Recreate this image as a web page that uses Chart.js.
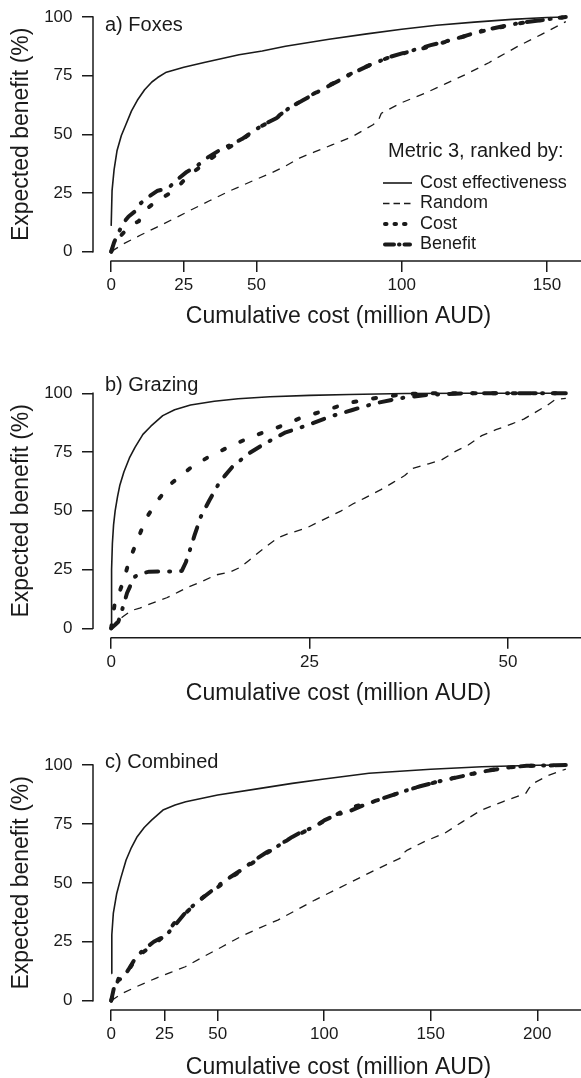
<!DOCTYPE html>
<html><head><meta charset="utf-8">
<script src="https://cdn.jsdelivr.net/npm/chart.js@4.4.1/dist/chart.umd.min.js"></script>
<style>
html,body{margin:0;padding:0;background:#fff;overflow:hidden;width:581px;height:1078px;position:relative;}
canvas{position:absolute;left:0;}
</style></head><body>
<canvas id="pa" width="600" height="330" style="top:0px"></canvas>
<canvas id="pb" width="600" height="362" style="top:345px"></canvas>
<canvas id="pc" width="600" height="361" style="top:720px"></canvas>
<script>
// ---------- DATA (cumulative cost [million AUD], expected benefit [%]) ----------
const seriesNames = ["Cost effectiveness", "Random", "Cost", "Benefit"];
const legendTitle = "Metric 3, ranked by:";
const xTitle = "Cumulative cost (million AUD)";
const yTitle = "Expected benefit (%)";
const yTicks = [0, 25, 50, 75, 100];

// Panel a) Foxes
const foxesXTicks = [0, 25, 50, 100, 150];
const foxesCostEff = [[0,11],[0.3,26],[1,35],[2,43],[3.5,49.5],[5,54],[7,60],[9,64.5],[11.5,69],[14,72.3],[16,74.2],[19,76.5],[25,78.6],[32,80.6],[44,83.9],[52,85.5],[60,87.5],[75,90.5],[88,92.8],[100,94.8],[112,96.5],[125,97.8],[138,99],[150,99.8],[156.5,100]];
const foxesRandom = [[0,0],[4,3.2],[10,7],[15.6,10.4],[22,14.3],[27,17.5],[34,21.8],[41,26],[48,29.8],[55,33.5],[60,36.5],[65,40],[70,42.5],[76,45.5],[83,49],[90,54],[92,56],[93,59],[100,63.5],[108,67.5],[115,71.5],[122,75.5],[130,80.5],[132,82],[140,87.5],[148,92.5],[156.5,98]];
const foxesCost = [[0,0],[1,3],[3,6.5],[5,9],[7,11.5],[9.5,13],[11,16.5],[13,19],[16,22],[19,24],[21,25.5],[24,29],[27,33],[30,35.5],[34,39.5],[38,42.5],[42,45.5],[46,48.5],[50,52.5],[55,55.5],[60,60],[65,64],[70,67.5],[76,71.5],[82,75.5],[88,79],[95,82.5],[102,85],[110,87.5],[118,90.5],[128,94],[140,97.2],[150,98.9],[156.5,100]];
const foxesBenefit = [[0,0],[1,4],[2.5,8],[4,12],[6,15],[8,17],[10,20.5],[13,23.5],[16,26],[18,26.5],[20,27.5],[23,31],[26,34],[29,36],[33,40],[37,43],[41,45.5],[45,48],[49,51.5],[53,54.5],[57,57],[61,61],[66,64.5],[71,68],[77,72],[83,76],[89,79.5],[96,83],[103,85.5],[110,88],[118,90.5],[128,94.3],[140,97.3],[150,99],[156.5,100]];

// Panel b) Grazing
const grazingXTicks = [0, 25, 50];
const grazingCostEff = [[0,0],[0.05,25],[0.15,36],[0.3,44],[0.5,50],[0.8,56],[1.1,61],[1.6,66.5],[2.3,72.5],[3,77],[4,82.5],[5,86],[6.5,90.5],[8,93],[10,95],[13,96.6],[16,97.7],[20,98.5],[25,99.1],[30,99.5],[37,99.9],[45,100],[57.3,100]];
const grazingRandom = [[0,0],[0.7,3],[1.5,5],[2.5,7.5],[3.6,8.6],[5,10.5],[7,13],[8.5,15.5],[9.8,17.7],[11.5,20],[13.2,22.7],[15,24],[16.3,26],[17.4,29],[18.5,32],[20,36],[21,38.5],[22.5,40.5],[24.5,42.5],[26,45],[27.5,47.5],[29,50],[30.5,53],[32,55.5],[34,59],[35.5,62],[37,65],[38,68],[40,70],[41.6,71.6],[43.5,75.5],[45,78],[46.7,82],[48.5,84.5],[50.5,87],[52,89],[53.5,92],[55,95],[56,97.4],[57.3,97.8]];
const grazingCost = [[0,0],[0.2,5],[0.45,10.6],[1,15],[1.5,19.8],[2.3,29],[3.4,38.3],[4.4,46.8],[5.9,54.6],[7.6,61.7],[9.9,68],[12.2,72.8],[14.9,77.3],[17.8,81.7],[21,85.5],[23.8,89.4],[27.1,92.9],[30.1,96],[33.2,97.9],[36.9,99.6],[39.7,100],[57.3,100]];
const grazingBenefit = [[0,0],[0.5,1.5],[0.9,2.8],[1.5,9.2],[2,15],[2.6,19.5],[3,22],[4,23.5],[4.8,24.1],[7.5,24.2],[8.9,24.4],[9.4,28],[9.8,32],[10.5,39.5],[11.3,47.5],[12.4,54.6],[13.7,62.4],[15.3,68.8],[17.3,74.3],[19.4,78.7],[22,83.4],[24.8,86.5],[27.6,90.1],[30.4,92.9],[33.2,95.7],[36.4,97.9],[39.7,99.3],[44.4,100],[57.3,100]];

// Panel c) Combined
const combinedXTicks = [0, 25, 50, 100, 150, 200];
const combinedCostEff = [[0,11.6],[0.3,28],[1,37],[2.6,45.5],[4.5,52],[7,59.7],[9.5,65],[12.2,69.6],[15.5,73.5],[19.1,76.7],[24.3,80.9],[30,83],[35,84.4],[50,87.3],[70,90.1],[85,92.2],[100,94.1],[121,96.5],[150,98.2],[174,99.3],[200,99.9],[213.4,100]];
const combinedRandom = [[0,0],[5.2,3.1],[12,6],[20.9,9.5],[28,12],[34.8,14.4],[43,18.5],[52.1,22.9],[60.8,27.2],[70,31],[78.2,34.2],[87,38.5],[95.6,42.7],[104,46.5],[113,50.5],[124,55.5],[135.5,60.4],[137,62.5],[139,63.9],[147,67.5],[156.4,71],[165,76],[173.8,80.9],[184,84.5],[194.6,88],[196,90],[198.1,92.2],[205,95.5],[213.4,98.3]];
const combinedCost = [[0,0],[1.7,4.5],[3.5,9.5],[6,11],[8.7,13.7],[12.2,18.7],[17.4,22.2],[22.6,25.7],[26,28.5],[29.5,32.8],[33,35.5],[36.5,38.5],[43.4,44.1],[50.4,48.4],[59.1,54],[69.5,60.4],[79.9,66.8],[92.1,72.4],[102.5,77.4],[111.2,81.6],[125.1,85.1],[139,89.4],[153,92.9],[166.8,95.8],[182.4,98.6],[194.6,99.6],[213.4,100]];
const combinedBenefit = [[0,0],[1.2,5],[3,8.5],[5,9.5],[8,13],[11,17.5],[15,21.5],[20,25],[23,26.5],[27,29],[30,32],[34,36.5],[38,40],[42,43],[47,46.5],[52,50],[56,52.5],[62,56],[67,59.5],[73,63],[78,65.5],[85,69.5],[90,72],[95,73.5],[100,76.5],[106,79],[112,80.5],[120,83.5],[128,86],[136,88.5],[145,91],[155,93.3],[165,95.3],[175,97.3],[185,98.8],[195,99.7],[213.4,100]];

// ---------- STYLE ----------
const FONT = "'Liberation Sans', Arial, Helvetica, sans-serif";
const INK = '#1a1a1a';
Chart.defaults.font.family = FONT;
Chart.defaults.color = INK;
const lineStyles = [
  {borderWidth: 1.6, borderDash: [], borderCapStyle: 'butt'},
  {borderWidth: 1.3, borderDash: [8, 7], borderCapStyle: 'butt'},
  {borderWidth: 4, borderDash: [3, 17], borderCapStyle: 'round'},
  {borderWidth: 4, borderDash: [12, 11, 1, 11], borderCapStyle: 'round'}
];
const legendDash = [[], [6.5, 4], [1.5, 8], [9, 5, 0.5, 5]];
const PLOT_LEFT = 93, PLOT_RIGHT = 584;

const rAxesPlugin = {
  id: 'rAxes',
  afterDraw(chart, args, opts) {
    const {ctx, chartArea: a, scales: {x, y}} = chart;
    ctx.save();
    ctx.strokeStyle = INK; ctx.lineWidth = 1.5; ctx.lineCap = 'square';
    ctx.beginPath();
    ctx.moveTo(a.left, y.getPixelForValue(0));
    ctx.lineTo(a.left, y.getPixelForValue(100));
    ctx.stroke();
    ctx.beginPath();
    ctx.moveTo(x.getPixelForValue(0), a.bottom);
    ctx.lineTo(chart.width, a.bottom);
    ctx.stroke();
    // panel label
    ctx.fillStyle = INK;
    ctx.font = '20px ' + FONT;
    ctx.textBaseline = 'middle'; ctx.textAlign = 'left';
    ctx.fillText(opts.label, opts.labelX, opts.labelY);
    // legend
    if (opts.legend) {
      const L = opts.legend;
      ctx.font = '20px ' + FONT;
      ctx.fillText(legendTitle, L.titleX, L.titleY);
      ctx.font = '18px ' + FONT;
      chart.data.datasets.forEach((ds, i) => {
        const yy = L.y0 + i * L.dy;
        ctx.save();
        ctx.strokeStyle = INK;
        ctx.lineWidth = ds.borderWidth;
        ctx.lineCap = ds.borderCapStyle;
        ctx.setLineDash(legendDash[i]);
        ctx.beginPath();
        ctx.moveTo(L.x1 + (i >= 2 ? 2 : 0), yy);
        ctx.lineTo(L.x2 - (i >= 2 ? 2 : 0), yy);
        ctx.stroke();
        ctx.restore();
        ctx.fillText(ds.label, L.textX, yy);
      });
    }
    ctx.restore();
  }
};

function makePanel(id, canvasTop, chartTop, chartBottom, xmax, xticks, series, label, labelY, legend) {
  const canvas = document.getElementById(id);
  const canvasH = canvas.height, canvasW = canvas.width;
  const ext = 0.04 * xmax;
  const datasets = series.map((arr, i) => Object.assign({
    label: seriesNames[i],
    data: arr.map(([x, y]) => ({x, y})),
    borderColor: INK,
    backgroundColor: INK,
    borderJoinStyle: 'round',
    pointRadius: 0,
    fill: false,
    tension: 0
  }, lineStyles[i]));
  new Chart(canvas, {
    type: 'line',
    data: {datasets},
    plugins: [rAxesPlugin],
    options: {
      responsive: false,
      animation: false,
      events: [],
      layout: {padding: {top: chartTop - canvasTop, left: 0, right: canvasW - PLOT_RIGHT, bottom: 0}},
      plugins: {
        legend: {display: false},
        tooltip: {enabled: false},
        rAxes: {label, labelX: 105, labelY: labelY - canvasTop,
                legend: legend ? Object.assign({}, legend, {
                  titleY: legend.titleY - canvasTop, y0: legend.y0 - canvasTop}) : null}
      },
      scales: {
        x: {
          type: 'linear', min: -ext, max: xmax + ext,
          afterBuildTicks: s => { s.ticks = xticks.map(v => ({value: v})); },
          afterFit: s => { s.height = canvasH - (chartBottom - canvasTop); s.paddingLeft = 0; s.paddingRight = 0; },
          grid: {drawOnChartArea: false, drawTicks: true, tickLength: 11, color: INK, lineWidth: 1.5},
          border: {display: false},
          ticks: {autoSkip: false, maxRotation: 0, padding: 3, color: INK, font: {size: 17}},
          title: {display: true, text: xTitle, color: INK, font: {size: 23}, padding: {top: 0, bottom: 0}}
        },
        y: {
          type: 'linear', min: -4, max: 104,
          afterBuildTicks: s => { s.ticks = yTicks.map(v => ({value: v})); },
          afterFit: s => { s.width = PLOT_LEFT; s.paddingTop = 0; s.paddingBottom = 0; },
          grid: {drawOnChartArea: false, drawTicks: true, tickLength: 11, color: INK, lineWidth: 1.5},
          border: {display: false},
          ticks: {padding: 9.5, color: INK, font: {size: 17}},
          title: {display: true, text: yTitle, color: INK, font: {size: 23}, padding: {top: 8, bottom: 0}}
        }
      }
    }
  });
}

makePanel('pa', 0, 7.6, 261.1, 156.5, foxesXTicks,
  [foxesCostEff, foxesRandom, foxesCost, foxesBenefit], 'a) Foxes', 25,
  {titleX: 388, titleY: 151, x1: 383, x2: 412, textX: 420, y0: 183, dy: 20.5});
makePanel('pb', 345, 383.9, 637.7, 57.3, grazingXTicks,
  [grazingCostEff, grazingRandom, grazingCost, grazingBenefit], 'b) Grazing', 385, null);
makePanel('pc', 720, 755.6, 1010.1, 213.4, combinedXTicks,
  [combinedCostEff, combinedRandom, combinedCost, combinedBenefit], 'c) Combined', 762, null);
</script>
</body></html>
